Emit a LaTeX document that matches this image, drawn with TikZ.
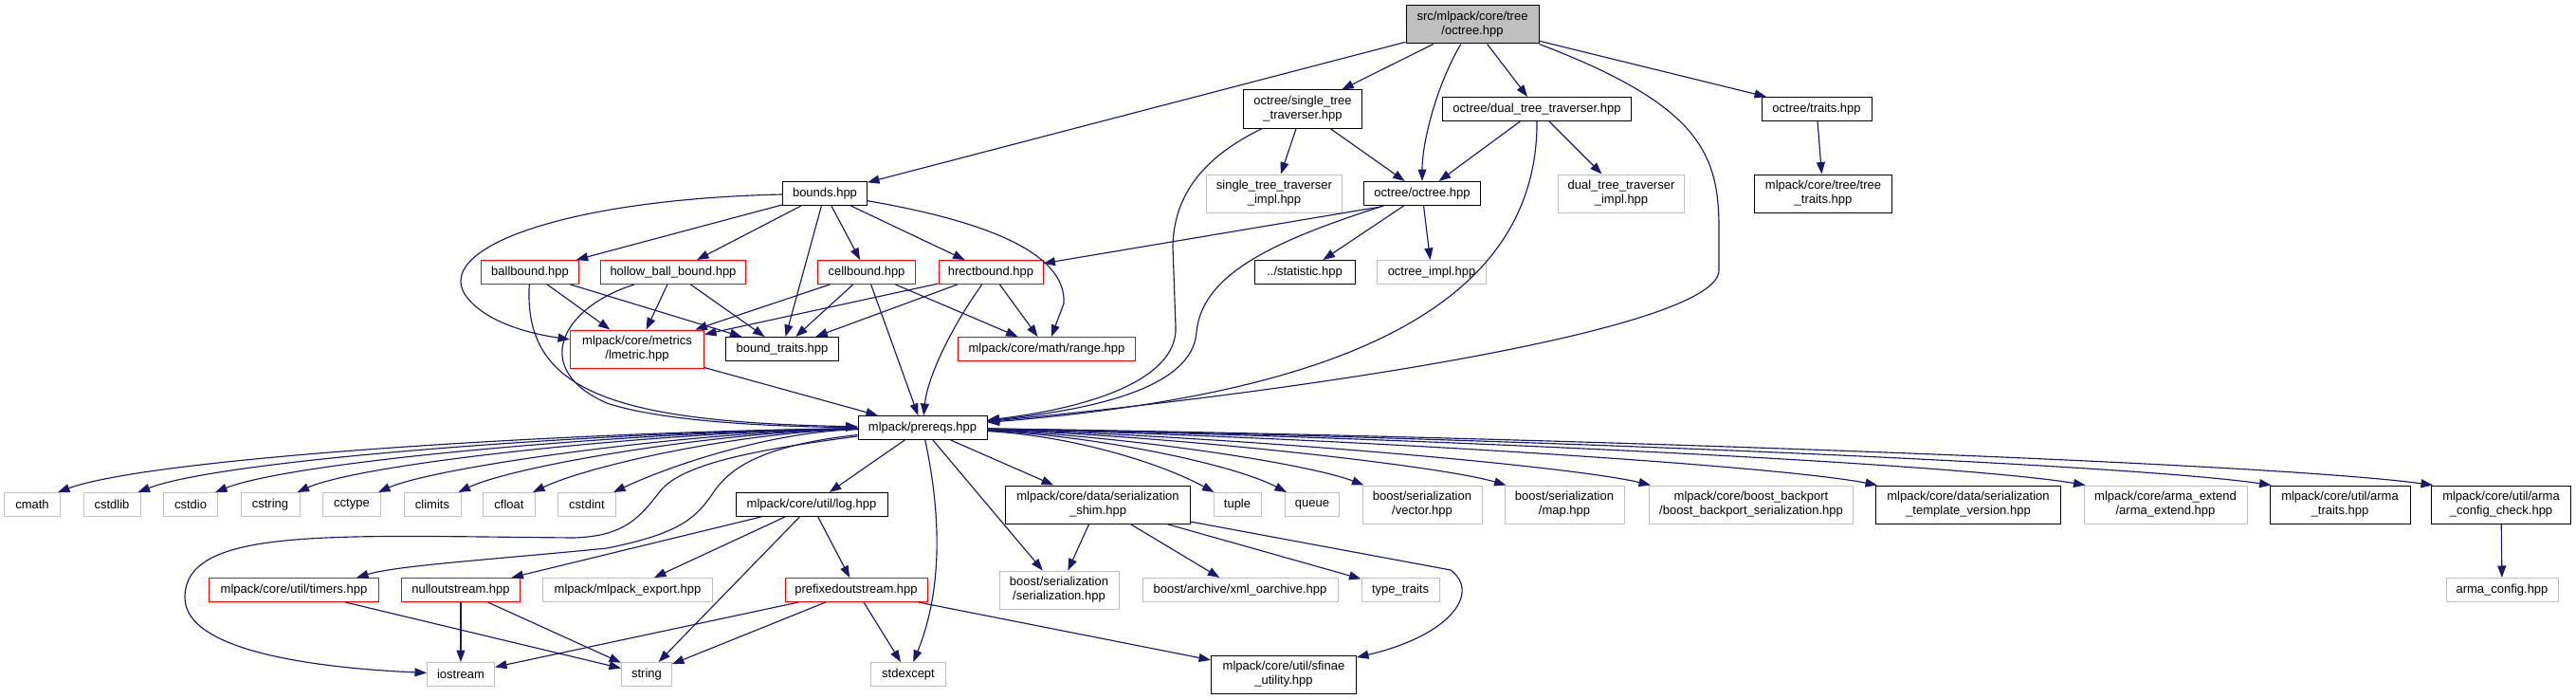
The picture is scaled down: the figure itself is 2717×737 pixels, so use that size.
\documentclass[tikz,border=0pt]{standalone}
\usepackage{fontspec}
\setmainfont{Liberation Sans}
\usetikzlibrary{arrows.meta}
\definecolor{edgecol}{HTML}{191970}
\definecolor{graybd}{HTML}{BFBFBF}
\definecolor{rootfill}{HTML}{BFBFBF}
\definecolor{redbd}{HTML}{FF0000}
\tikzset{
  box/.style={rectangle, line width=1bp, inner sep=0pt, align=center, minimum height=25bp,
    font=\fontsize{13bp}{15bp}\selectfont, text=black},
  docbox/.style={box, draw=black, fill=white},
  redbox/.style={box, draw=redbd, fill=white},
  graybox/.style={box, draw=graybd, fill=white},
  rootbox/.style={box, draw=black, fill=rootfill},
  tall/.style={minimum height=40bp},
  dep/.style={draw=edgecol, line width=1.15bp, -{Triangle[length=12.5bp,width=9bp]}},
}
\begin{document}
\begin{tikzpicture}[x=1bp,y=-1bp]
\useasboundingbox[fill=white] (0,0) rectangle (2717,737);

% ---- row 1
\node[rootbox,tall,minimum width=140bp] (root) at (1553,26) {src/mlpack/core/tree\\/octree.hpp};
% ---- row 2
\node[docbox,tall,minimum width=125bp] (sttrav) at (1374,115) {octree/single\_tree\\\_traverser.hpp};
\node[docbox,minimum width=199bp] (dttrav) at (1621,115) {octree/dual\_tree\_traverser.hpp};
\node[docbox,minimum width=116bp] (traits) at (1916,115) {octree/traits.hpp};
% ---- row 3
\node[docbox,minimum width=89bp] (bounds) at (870,204) {bounds.hpp};
\node[graybox,tall,minimum width=143bp] (stimpl) at (1344,204) {single\_tree\_traverser\\\_impl.hpp};
\node[docbox,minimum width=123bp] (octree) at (1500,204) {octree/octree.hpp};
\node[graybox,tall,minimum width=133bp] (dtimpl) at (1710,204) {dual\_tree\_traverser\\\_impl.hpp};
\node[docbox,tall,minimum width=145bp] (treetraits) at (1923,204) {mlpack/core/tree/tree\\\_traits.hpp};
% ---- row 4
\node[redbox,minimum width=103bp] (ballb) at (559,287) {ballbound.hpp};
\node[redbox,minimum width=153bp] (hollow) at (710,287) {hollow\_ball\_bound.hpp};
\node[redbox,minimum width=103bp] (cellb) at (914,287) {cellbound.hpp};
\node[redbox,minimum width=110bp] (hrect) at (1045,287) {hrectbound.hpp};
\node[docbox,minimum width=106bp] (stat) at (1376,287) {../statistic.hpp};
\node[graybox,minimum width=115bp] (octimpl) at (1510,287) {octree\_impl.hpp};
% ---- row 5
\node[redbox,tall,minimum width=141bp] (lmetric) at (672,368) {mlpack/core/metrics\\/lmetric.hpp};
\node[docbox,minimum width=119bp] (btraits) at (825,368) {bound\_traits.hpp};
\node[redbox,minimum width=187bp] (range) at (1104,368) {mlpack/core/math/range.hpp};
% ---- row 6
\node[docbox,minimum width=136bp] (prereqs) at (973,451) {mlpack/prereqs.hpp};
% ---- row 7
\node[graybox,minimum width=59bp] (cmath) at (34,532) {cmath};
\node[graybox,minimum width=60bp] (cstdlib) at (118,532) {cstdlib};
\node[graybox,minimum width=57bp] (cstdio) at (201,532) {cstdio};
\node[graybox,minimum width=62bp] (cstring) at (285,532) {cstring};
\node[graybox,minimum width=61bp] (cctype) at (371,532) {cctype};
\node[graybox,minimum width=60bp] (climits) at (456,532) {climits};
\node[graybox,minimum width=55bp] (cfloat) at (537,532) {cfloat};
\node[graybox,minimum width=61bp] (cstdint) at (619,532) {cstdint};
\node[docbox,minimum width=160bp] (log) at (856,532) {mlpack/core/util/log.hpp};
\node[docbox,tall,minimum width=195bp] (shim) at (1158,532) {mlpack/core/data/serialization\\\_shim.hpp};
\node[graybox,minimum width=50bp] (tuple) at (1305,532) {tuple};
\node[graybox,minimum width=57bp] (queue) at (1384,532) {queue};
\node[graybox,tall,minimum width=126bp] (bvec) at (1500,532) {boost/serialization\\/vector.hpp};
\node[graybox,tall,minimum width=126bp] (bmap) at (1650,532) {boost/serialization\\/map.hpp};
\node[graybox,tall,minimum width=215bp] (bback) at (1847,532) {mlpack/core/boost\_backport\\/boost\_backport\_serialization.hpp};
\node[docbox,tall,minimum width=195bp] (tver) at (2076,532) {mlpack/core/data/serialization\\\_template\_version.hpp};
\node[graybox,tall,minimum width=172bp] (aext) at (2284,532) {mlpack/core/arma\_extend\\/arma\_extend.hpp};
\node[docbox,tall,minimum width=148bp] (atraits) at (2468,532) {mlpack/core/util/arma\\\_traits.hpp};
\node[docbox,tall,minimum width=147bp] (acc) at (2638,532) {mlpack/core/util/arma\\\_config\_check.hpp};
% ---- row 8
\node[redbox,minimum width=179bp] (timers) at (310,622) {mlpack/core/util/timers.hpp};
\node[redbox,minimum width=125bp] (nullout) at (486,622) {nulloutstream.hpp};
\node[graybox,minimum width=179bp] (export) at (662,622) {mlpack/mlpack\_export.hpp};
\node[redbox,minimum width=150bp] (prefixed) at (903,622) {prefixedoutstream.hpp};
\node[graybox,tall,minimum width=126bp] (bser) at (1117,622) {boost/serialization\\/serialization.hpp};
\node[graybox,minimum width=206bp] (xml) at (1308,622) {boost/archive/xml\_oarchive.hpp};
\node[graybox,minimum width=82bp] (ttraits) at (1477,622) {type\_traits};
\node[graybox,minimum width=118bp] (aconfig) at (2639,622) {arma\_config.hpp};
% ---- row 9
\node[graybox,minimum width=71bp] (iostream) at (486,711) {iostream};
\node[graybox,minimum width=53bp] (string) at (682,711) {string};
\node[graybox,minimum width=79bp] (stdexcept) at (958,711) {stdexcept};
\node[docbox,tall,minimum width=153bp] (sfinae) at (1354,711) {mlpack/core/util/sfinae\\\_utility.hpp};

% ================= edges
% root
\draw[dep] (root) -- (bounds);
\draw[dep] (root) -- (sttrav);
\draw[dep] (root) .. controls (1515,90) and (1500,150) .. (octree);
\draw[dep] (root) -- (dttrav);
\draw[dep] (root) -- (traits);
\draw[dep] (root.south east) .. controls (1790,110) and (1813,160) .. (1813,240) -- (1813,285)
   .. controls (1813,345) and (1400,410) .. (prereqs);
% single traverser
\draw[dep] (sttrav) -- (stimpl);
\draw[dep] (sttrav) -- (octree);
\draw[dep] (sttrav) .. controls (1270,165) and (1238,205) .. (1237,260) -- (1240,345)
   .. controls (1242,400) and (1150,430) .. (prereqs);
% dual traverser
\draw[dep] (dttrav) -- (octree);
\draw[dep] (dttrav) -- (dtimpl);
\draw[dep] (dttrav) .. controls (1622,350) and (1350,420) .. (prereqs);
% traits
\draw[dep] (traits) -- (treetraits);
% bounds
\draw[dep] (bounds) -- (ballb);
\draw[dep] (bounds) -- (hollow);
\draw[dep] (bounds) -- (btraits);
\draw[dep] (bounds) -- (cellb);
\draw[dep] (bounds) -- (hrect);
\draw[dep] (bounds) .. controls (600,210) and (460,260) .. (490,310) .. controls (510,340) and (560,352) .. (lmetric);
\draw[dep] (bounds) .. controls (1050,235) and (1125,270) .. (1122,320) -- (range);
% ballbound
\draw[dep] (ballb) -- (lmetric);
\draw[dep] (ballb) -- (btraits);
\draw[dep] (ballb) .. controls (552,410) and (640,445) .. (prereqs);
% hollow
\draw[dep] (hollow) -- (lmetric);
\draw[dep] (hollow) -- (btraits);
\draw[dep] (hollow) .. controls (590,325) and (560,390) .. (640,425) .. controls (700,445) and (820,450) .. (prereqs);
% cellbound
\draw[dep] (cellb) -- (lmetric);
\draw[dep] (cellb) -- (btraits);
\draw[dep] (cellb) -- (prereqs);
\draw[dep] (cellb) -- (range);
% hrectbound
\draw[dep] (hrect) -- (lmetric);
\draw[dep] (hrect) -- (btraits);
\draw[dep] (hrect) .. controls (1000,350) and (978,400) .. (prereqs);
\draw[dep] (hrect) -- (range);
% octree
\draw[dep] ([xshift=18bp,yshift=-1bp]octree.south west) -- (hrect);
\draw[dep] (octree) -- (stat);
\draw[dep] (octree) -- (octimpl);
\draw[dep] (octree) .. controls (1340,255) and (1268,290) .. (1262,350) .. controls (1258,410) and (1150,432) .. (prereqs);
% lmetric
\draw[dep] (lmetric) -- (prereqs);
% prereqs left fan
\draw[dep] (prereqs) .. controls (610,455) and (162,482) .. ([xshift=-3bp]cmath.north east);
\draw[dep] (prereqs) .. controls (639,455) and (236,484) .. ([xshift=-3bp]cstdlib.north east);
\draw[dep] (prereqs) .. controls (668,455) and (310,486) .. ([xshift=-3bp]cstdio.north east);
\draw[dep] (prereqs) .. controls (697,455) and (383,488) .. ([xshift=-3bp]cstring.north east);
\draw[dep] (prereqs) .. controls (728,455) and (460,492) .. ([xshift=-3bp]cctype.north east);
\draw[dep] (prereqs) .. controls (757,455) and (542,491) .. ([xshift=-3bp]climits.north east);
\draw[dep] (prereqs) .. controls (785,455) and (623,490) .. ([xshift=-3bp]cfloat.north east);
\draw[dep] (prereqs) .. controls (816,455) and (711,489) .. ([xshift=-3bp]cstdint.north east);
% prereqs downward
\draw[dep] (prereqs) -- (log);
\draw[dep] (prereqs) .. controls (800,470) and (770,495) .. (754,517) .. controls (735,545) and (720,562) .. (640,578)
   .. controls (520,590) and (420,596) .. ([xshift=66bp]timers.north);
\draw[dep] (prereqs) .. controls (790,475) and (720,490) .. (697,517) .. controls (675,545) and (660,565) .. (606,567)
   .. controls (350,565) and (195,555) .. (195,630) .. controls (195,690) and (350,705) .. (iostream);
\draw[dep] (prereqs) .. controls (992,540) and (995,620) .. (stdexcept);
\draw[dep] (prereqs) -- (bser);
\draw[dep] (prereqs) -- (shim);
% prereqs right fan
\draw[dep] (prereqs) .. controls (1125,459) and (1220,486) .. ([xshift=1bp]tuple.north west);
\draw[dep] (prereqs) .. controls (1153,459) and (1300,489) .. ([xshift=2bp]queue.north west);
\draw[dep] (prereqs) .. controls (1180,459) and (1377,488) .. ([xshift=2bp]bvec.north west);
\draw[dep] (prereqs) .. controls (1233,459) and (1519,491) .. ([xshift=2bp]bmap.north west);
\draw[dep] (prereqs) .. controls (1286,459) and (1656,491) .. ([xshift=2bp]bback.north west);
\draw[dep] (prereqs) .. controls (1370,459) and (1870,490) .. ([xshift=2bp]tver.north west);
\draw[dep] (prereqs) .. controls (1447,459) and (2060,488) .. ([xshift=2bp]aext.north west);
\draw[dep] (prereqs) .. controls (1515,459) and (2236,488) .. ([xshift=2bp]atraits.north west);
\draw[dep] (prereqs) .. controls (1575,459) and (2387,487) .. ([xshift=2bp]acc.north west);
% log
\draw[dep] (log) -- (nullout);
\draw[dep] (log) -- (export);
\draw[dep] (log) -- (string);
\draw[dep] (log) -- (prefixed);
% timers, nullout, prefixed
\draw[dep] (timers) -- (string);
\draw[dep] (nullout) -- (iostream);
\draw[dep] (nullout) -- (string);
\draw[dep] (prefixed) -- (iostream);
\draw[dep] (prefixed) -- (string);
\draw[dep] (prefixed) -- (stdexcept);
\draw[dep] (prefixed) -- (sfinae);
% shim
\draw[dep] (shim) -- (bser);
\draw[dep] (shim) -- (xml);
\draw[dep] (shim) -- (ttraits);
\draw[dep] (shim) -- (1530,601) .. controls (1562,625) and (1530,670) .. (sfinae);
% arma
\draw[dep] (acc) -- (aconfig);
\end{tikzpicture}
\end{document}
